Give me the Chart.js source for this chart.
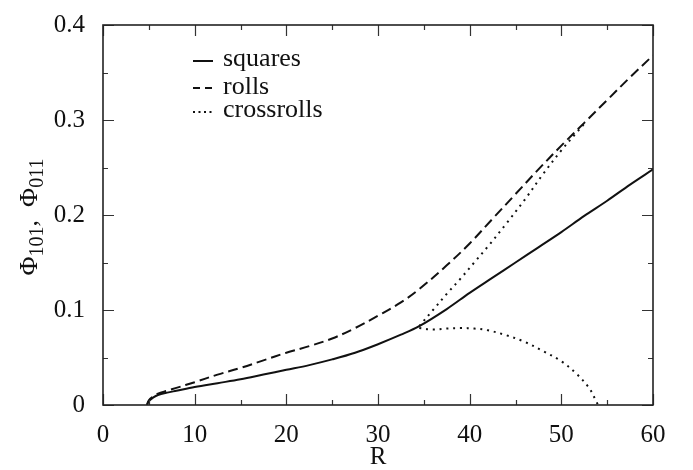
<!DOCTYPE html>
<html>
<head>
<meta charset="utf-8">
<script src="https://cdn.jsdelivr.net/npm/chart.js@4.4.1/dist/chart.umd.min.js"></script>
<style>
  html, body { margin: 0; padding: 0; background: #fff; }
  #wrap { width: 693px; height: 470px; }
</style>
</head>
<body>
<div id="wrap"><canvas id="phi-chart" width="693" height="470"></canvas></div>
<script>
// values
const squaresR   = [4.8, 5.0, 5.5, 6, 7, 8, 10, 12.5, 15, 17.5, 20, 22.5, 25, 27.5, 30, 32.5, 34.5, 37.5, 40, 42.5, 45, 47.5, 50, 52.5, 55, 57.5, 60];
const squaresPhi = [0, 0.004, 0.008, 0.0105, 0.013, 0.015, 0.019, 0.023, 0.027, 0.032, 0.037, 0.042, 0.048, 0.055, 0.064, 0.074, 0.083, 0.101, 0.118, 0.134, 0.150, 0.166, 0.182, 0.199, 0.215, 0.232, 0.248];

const rollsR   = [4.8, 5.0, 5.5, 6, 7, 8, 10, 12.5, 15, 17.5, 20, 22.5, 25, 27.5, 30, 32.5, 34.5, 37.5, 40, 42.5, 45, 47.5, 50, 52.5, 55, 57.5, 60];
const rollsPhi = [0, 0.005, 0.009, 0.012, 0.015, 0.018, 0.024, 0.032, 0.039, 0.047, 0.055, 0.062, 0.070, 0.081, 0.094, 0.108, 0.122, 0.147, 0.170, 0.196, 0.222, 0.248, 0.273, 0.297, 0.321, 0.345, 0.368];

// crossrolls: two branches leaving the squares curve near R = 34.5
const crossUpperR   = [34.5, 36, 37.5, 39, 40.5, 42, 44, 46, 48, 50, 51.5, 52.5];
const crossUpperPhi = [0.083, 0.100, 0.117, 0.133, 0.150, 0.167, 0.191, 0.216, 0.243, 0.268, 0.285, 0.296];
const crossLowerR   = [34.5, 36, 37.5, 39, 40.5, 42, 44, 46, 48, 50, 51.6, 53, 53.7, 54];
const crossLowerPhi = [0.081, 0.0795, 0.0805, 0.081, 0.0805, 0.0786, 0.0734, 0.0665, 0.0568, 0.046, 0.0334, 0.0183, 0.006, 0];

const xTicks = [0, 10, 20, 30, 40, 50, 60];
const yTicks = [0, 0.1, 0.2, 0.3, 0.4];

const FONT = '"Liberation Serif", "Times New Roman", serif';
const INK = '#111';

function pts(xs, ys) {
    return xs.map((x, i) => ({ x: x, y: ys[i] }));
}

const data = {
    datasets: [
        { label: 'squares', data: pts(squaresR, squaresPhi), borderDash: [] },
        { label: 'rolls', data: pts(rollsR, rollsPhi), borderDash: [10, 5] },
        { label: 'crossrolls', data: pts(crossUpperR, crossUpperPhi), borderDash: [2, 4.8] },
        { label: 'crossrolls', data: pts(crossLowerR, crossLowerPhi), borderDash: [2, 4.8], hideInLegend: true }
    ].map(ds => Object.assign({
        borderColor: INK,
        borderWidth: 2,
        pointRadius: 0,
        fill: false,
        tension: 0.35
    }, ds))
};

// inward ticks on all four sides + box frame
const frameTicks = {
    id: 'frameTicks',
    afterDraw(chart) {
        const { ctx, chartArea: a, scales: { x, y } } = chart;
        ctx.save();
        ctx.strokeStyle = '#333';
        ctx.lineWidth = 1.2;
        for (let i = 0; i <= 12; i++) {
            const px = Math.round(x.getPixelForValue(i * 5)) + 0.5;
            const len = i % 2 === 0 ? 11 : 5;
            ctx.beginPath();
            ctx.moveTo(px, a.bottom); ctx.lineTo(px, a.bottom - len);
            ctx.moveTo(px, a.top); ctx.lineTo(px, a.top + len);
            ctx.stroke();
        }
        for (let i = 0; i <= 8; i++) {
            const py = Math.round(y.getPixelForValue(i * 0.05)) + 0.5;
            const len = i % 2 === 0 ? 11 : 5;
            ctx.beginPath();
            ctx.moveTo(a.left, py); ctx.lineTo(a.left + len, py);
            ctx.moveTo(a.right, py); ctx.lineTo(a.right - len, py);
            ctx.stroke();
        }
        ctx.strokeStyle = '#222';
        ctx.lineWidth = 1.6;
        ctx.strokeRect(a.left, a.top, a.right - a.left, a.bottom - a.top);
        ctx.restore();
    }
};

// legend inside the plot, top left
const insideLegend = {
    id: 'insideLegend',
    afterDraw(chart) {
        const ctx = chart.ctx;
        const rows = [{ ly: 61, by: 66 }, { ly: 88, by: 94 }, { ly: 112, by: 117 }];
        ctx.save();
        ctx.font = '26px ' + FONT;
        ctx.fillStyle = INK;
        ctx.textBaseline = 'alphabetic';
        let r = 0;
        chart.data.datasets.forEach(ds => {
            if (ds.hideInLegend) return;
            const row = rows[r++];
            ctx.strokeStyle = INK;
            ctx.lineWidth = 2;
            ctx.setLineDash(ds.borderDash.length ? (ds.borderDash[0] > 5 ? [7, 5] : [2, 3.5]) : []);
            ctx.beginPath();
            ctx.moveTo(193, row.ly);
            ctx.lineTo(213, row.ly);
            ctx.stroke();
            ctx.setLineDash([]);
            ctx.fillText(ds.label, 223, row.by);
        });
        ctx.restore();
    }
};

// rotated y title with subscripts
const yTitle = {
    id: 'yTitle',
    afterDraw(chart) {
        const ctx = chart.ctx;
        const a = chart.chartArea;
        const parts = [
            { t: '\u03A6', f: '26px ' + FONT, dy: 0 },
            { t: '101', f: '20px ' + FONT, dy: 6 },
            { t: ',  ', f: '26px ' + FONT, dy: 0 },
            { t: '\u03A6', f: '26px ' + FONT, dy: 0 },
            { t: '011', f: '20px ' + FONT, dy: 6 }
        ];
        ctx.save();
        let w = 0;
        parts.forEach(p => { ctx.font = p.f; p.w = ctx.measureText(p.t).width; w += p.w; });
        ctx.translate(37, (a.top + a.bottom) / 2 + 2);
        ctx.rotate(-Math.PI / 2);
        ctx.fillStyle = INK;
        ctx.textBaseline = 'alphabetic';
        let cx = -w / 2;
        parts.forEach(p => {
            ctx.font = p.f;
            ctx.fillText(p.t, cx, p.dy);
            cx += p.w;
        });
        ctx.restore();
    }
};

const config = {
    type: 'line',
    data: data,
    options: {
        responsive: false,
        animation: false,
        layout: { padding: { left: 0, right: 40, top: 18, bottom: 0 } },
        plugins: {
            legend: { display: false },
            tooltip: { enabled: false }
        },
        scales: {
            x: {
                type: 'linear',
                min: 0,
                max: 60,
                afterFit: s => { s.height = 65; },
                afterBuildTicks: s => { s.ticks = xTicks.map(v => ({ value: v })); },
                grid: { display: false },
                border: { display: false },
                ticks: {
                    color: INK,
                    padding: 7,
                    maxRotation: 0,
                    font: { family: FONT, size: 25 },
                    callback: v => String(v)
                },
                title: {
                    display: true,
                    text: 'R',
                    color: INK,
                    padding: { top: 0, bottom: 0 },
                    font: { family: FONT, size: 25, lineHeight: 1 }
                }
            },
            y: {
                type: 'linear',
                min: 0,
                max: 0.4,
                afterFit: s => { s.width = 103; },
                afterBuildTicks: s => { s.ticks = yTicks.map(v => ({ value: v })); },
                grid: { display: false },
                border: { display: false },
                ticks: {
                    color: INK,
                    padding: 10,
                    font: { family: FONT, size: 25 },
                    callback: v => (v === 0 ? '0' : v.toFixed(1))
                }
            }
        }
    },
    plugins: [frameTicks, insideLegend, yTitle]
};

const phiChart = new Chart(document.getElementById('phi-chart').getContext('2d'), config);
</script>
</body>
</html>
